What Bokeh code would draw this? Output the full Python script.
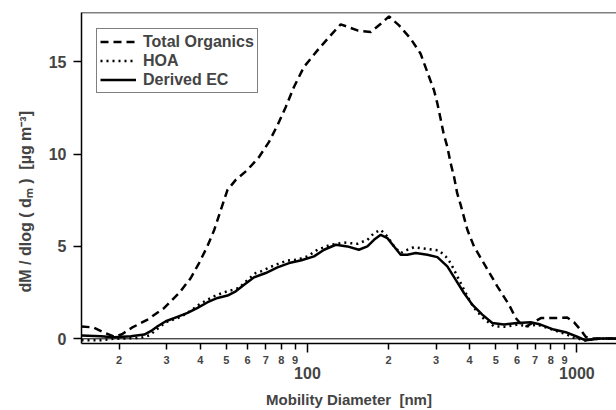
from bokeh.plotting import figure
from bokeh.models import FixedTicker, LogAxis, Span, Legend, LegendItem, Range1d, Title
from bokeh.embed import file_html
from bokeh.resources import INLINE

# ---- data ----
to_d = [14.5, 16.0, 17.5, 19.2, 20.5, 22.3, 25.5, 29.4, 33.4, 36.9, 39.6, 42.5, 45.0, 47.7,
        50.5, 54.2, 59.9, 66.2, 72.0, 77.4, 83.1, 89.1, 97.0, 108.9, 120.3, 132.9, 153.3,
        171.8, 187.2, 200.8, 218.8, 241.7, 263.0, 278.5, 294.9, 303.5, 311.0, 320.0, 330.5,
        340.0, 350.0, 359.5, 370.4, 392.2, 415.0, 458.6, 506.7, 559.6, 592.5, 625.0, 651.0,
        700.0, 735.0, 845.0, 920.0, 975.0, 1030.0, 1080.0, 1120.0, 1403.0]
to_v = [0.66, 0.62, 0.35, 0.12, 0.25, 0.6, 1.04, 1.67, 2.48, 3.29, 4.1, 5.0, 5.86, 6.98,
        8.06, 8.6, 9.14, 9.85, 10.66, 11.56, 12.55, 13.63, 14.71, 15.61, 16.33, 17.02, 16.69,
        16.6, 17.05, 17.45, 16.96, 16.24, 15.43, 14.44, 13.45, 12.74, 12.01, 11.12, 10.39,
        9.5, 8.77, 7.88, 7.25, 5.9, 5.0, 3.92, 2.84, 1.85, 1.13, 0.75, 0.68,
        0.95, 1.12, 1.13, 1.15, 0.9, 0.5, 0.1, 0.02, 0.02]

hoa_d = [14.5, 17.1, 19.1, 22.1, 24.0, 25.9, 29.8, 33.9, 37.4, 39.6, 42.6, 45.0, 49.1, 55.8,
         58.2, 64.3, 67.1, 76.3, 84.3, 91.8, 100.0, 108.9, 122.0, 136.7, 153.3, 167.0, 176.6,
         187.0, 198.0, 209.6, 221.8, 235.0, 248.6, 278.6, 307.6, 325.8, 340.0, 354.8, 370.4,
         392.2, 415.0, 451.9, 492.0, 543.9, 601.0, 654.6, 712.9, 776.6, 845.5, 920.5, 974.6,
         1077.0, 1200.0, 1403.0]
hoa_v = [-0.08, -0.08, 0.0, 0.03, 0.05, 0.18, 0.9, 1.19, 1.58, 1.85, 2.12, 2.3, 2.52, 2.75,
         3.02, 3.56, 3.65, 4.01, 4.24, 4.28, 4.46, 4.82, 5.09, 5.21, 5.14, 5.36, 5.72,
         5.9, 5.54, 5.0, 4.64, 4.82, 4.96, 4.86, 4.78, 4.46, 4.1, 3.56, 3.02,
         2.3, 1.67, 1.08, 0.68, 0.65, 0.77, 0.68, 0.77, 0.59, 0.41, 0.23, 0.05,
         -0.09, 0.0, 0.0]

ec_d = [14.5, 17.1, 19.2, 22.1, 24.8, 26.2, 27.8, 29.8, 32.9, 35.9, 39.1, 42.6, 46.4, 50.5,
        54.2, 58.2, 63.4, 70.0, 77.4, 85.5, 95.0, 105.8, 115.3, 127.4, 140.6, 155.2, 166.9,
        176.6, 187.1, 198.0, 209.6, 221.8, 234.9, 252.2, 278.7, 303.5, 330.5, 354.7, 381.0,
        409.0, 445.6, 485.6, 535.8, 600.6, 673.6, 733.0, 821.0, 909.0, 1003.0, 1077.0,
        1225.0, 1403.0]
ec_v = [0.18, 0.14, 0.09, 0.14, 0.23, 0.41, 0.68, 0.95, 1.19, 1.40, 1.67, 1.98, 2.21, 2.34,
        2.57, 2.93, 3.33, 3.56, 3.87, 4.10, 4.25, 4.46, 4.82, 5.09, 5.0, 4.82, 5.0,
        5.36, 5.63, 5.45, 5.0, 4.55, 4.55, 4.64, 4.55, 4.42, 3.92, 3.2, 2.48,
        1.85, 1.31, 0.86, 0.77, 0.86, 0.9, 0.77, 0.5, 0.36, 0.11, -0.08,
        0.02, 0.02]

series_names = ["Total Organics", "HOA", "Derived EC"]
y_ticks = [0, 5, 10, 15]
x_digit_ticks = [20, 30, 40, 50, 60, 70, 80, 90, 200, 300, 400, 500, 600, 700, 800, 900]
x_decade_ticks = [100, 1000]
x_label = "Mobility Diameter\u00a0\u00a0[nm]"
y_label = "dM / dlog ( d\u2098 )\u00a0\u00a0[\u00b5g m\u207b\u00b3]"

FONT = "Liberation Sans"

p = figure(width=616, height=410, x_axis_type="log",
           x_range=Range1d(14.5, 1403), y_range=Range1d(-0.254, 17.66),
           output_backend="svg", toolbar_location=None,
           min_border_left=81, min_border_right=0, min_border_top=12, min_border_bottom=66)
p.outline_line_color = None
p.xgrid.visible = False
p.ygrid.visible = False

r_to = p.line(to_d, to_v, line_color="black", line_width=2.5, line_dash="8 5")
r_hoa = p.line(hoa_d, hoa_v, line_color="black", line_width=2.5, line_dash="2 4")
r_ec = p.line(ec_d, ec_v, line_color="black", line_width=2.5)

p.add_layout(Span(location=0, dimension="width", line_color="black", line_width=1))
p.add_layout(Span(location=17.66, dimension="width", line_color="black", line_width=1.5))

# y axis
ya = p.yaxis[0]
ya.ticker = FixedTicker(ticks=y_ticks, minor_ticks=[])
ya.major_tick_out = 8
ya.major_tick_in = 0
ya.axis_line_width = 1.5
ya.major_tick_line_width = 1.5
ya.major_label_standoff = 7
ya.major_label_text_font = FONT
ya.major_label_text_font_style = "bold"
ya.major_label_text_font_size = "16px"

ytitle = Title(text=y_label, align="left", offset=51, standoff=24,
               text_font=FONT, text_font_style="bold", text_font_size="16px")
p.add_layout(ytitle, "left")

# x axis (digit labels)
xa = p.xaxis[0]
xa.ticker = FixedTicker(ticks=x_digit_ticks, minor_ticks=x_decade_ticks)
xa.major_label_overrides = {t: str(int(str(t)[0])) for t in x_digit_ticks}
xa.major_tick_out = 6
xa.major_tick_in = 0
xa.minor_tick_out = 9
xa.minor_tick_in = 0
xa.axis_line_width = 1.5
xa.major_tick_line_width = 1.5
xa.minor_tick_line_width = 1.5
xa.major_label_standoff = 3
xa.major_label_text_font = FONT
xa.major_label_text_font_style = "bold"
xa.major_label_text_font_size = "11px"

# x axis (decade labels + title)
xa2 = LogAxis(ticker=FixedTicker(ticks=x_decade_ticks, minor_ticks=[]),
              major_label_overrides={t: str(t) for t in x_decade_ticks},
              major_tick_out=0, major_tick_in=0, minor_tick_out=0, minor_tick_in=0,
              axis_line_color=None, major_tick_line_color=None, minor_tick_line_color=None,
              major_label_standoff=0,
              major_label_text_font=FONT, major_label_text_font_style="bold",
              major_label_text_font_size="16px",
              axis_label=x_label, axis_label_standoff=9,
              axis_label_text_font=FONT, axis_label_text_font_style="bold",
              axis_label_text_font_size="15px")
p.add_layout(xa2, "below")

legend = Legend(items=[LegendItem(label=series_names[0], renderers=[r_to]),
                       LegendItem(label=series_names[1], renderers=[r_hoa]),
                       LegendItem(label=series_names[2], renderers=[r_ec])],
                location=(15, 250), border_line_color="black", border_line_width=1.5,
                padding=3, spacing=0, margin=0, glyph_width=36, glyph_height=19,
                label_height=19, label_standoff=7,
                label_text_font=FONT, label_text_font_style="bold",
                label_text_font_size="16px", background_fill_alpha=1)
p.add_layout(legend)

open("out.html", "w").write(file_html(p, INLINE))
